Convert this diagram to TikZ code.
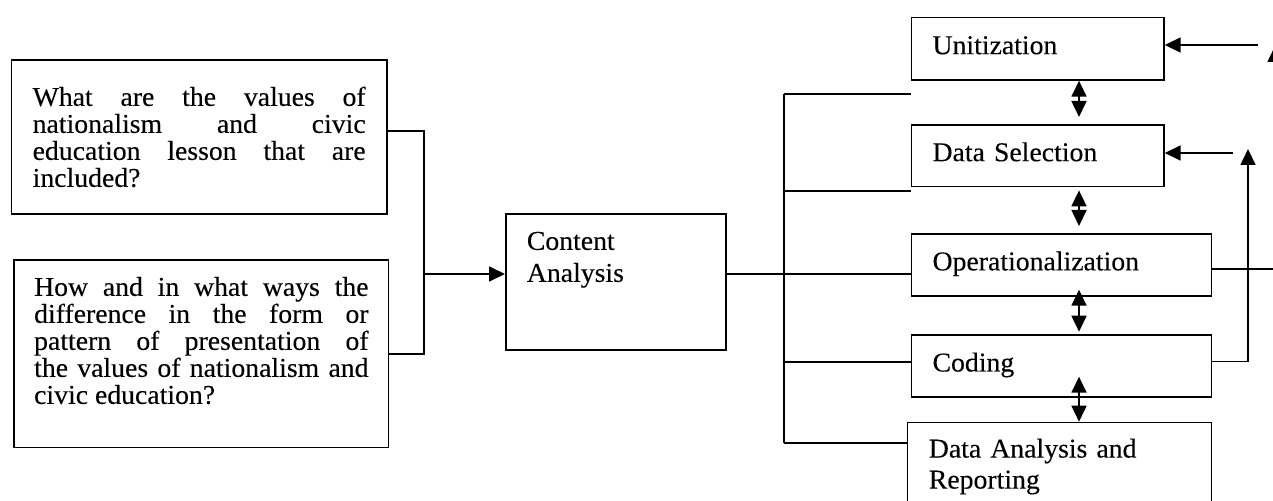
\documentclass[tikz,border=0pt]{standalone}
\usepackage{fontspec}
\setmainfont[FakeStretch=1.02,FakeBold=0.2]{Liberation Serif}
\usetikzlibrary{arrows.meta}
\hyphenpenalty=10000
\exhyphenpenalty=10000

\begin{document}
\begin{tikzpicture}[x=0.5pt,y=-0.5pt,line width=0.85pt,>={Triangle[length=8pt,width=7.5pt]}]
	\tikzstyle{rect}=[draw, rectangle, anchor=north west, inner xsep=10.5pt, text height=8.5pt, text depth=3pt, align=left, font=\fontsize{13.6}{15.5}\selectfont]
	\tikzstyle{rect_q}=[rect, align=justify, font=\fontsize{13.6}{13.5}\selectfont]

	\useasboundingbox (0,0) rectangle (1273,501);
	\clip (0,0) rectangle (1273,501);

	% questions
	\node[rect_q, text width=166.5pt, inner xsep=10.55pt, inner ysep=14.35pt, text depth=39.8pt] (q1) at (10.7,59.3) {What are the values of\linebreak nationalism and civic\linebreak education lesson that are\linebreak included?};
	\node[rect_q, text width=167.2pt, inner xsep=10pt, inner ysep=9.35pt, text depth=66.5pt] (q2) at (13.3,259.3) {How and in what ways the\linebreak difference in the form or\linebreak pattern of presentation of\linebreak the values of nationalism and\linebreak civic education?};

	% method
	\node[rect, text width=89pt, inner ysep=9.35pt, text depth=40.65pt, font=\fontsize{13.6}{16}\selectfont] (ca) at (505,213.3) {Content\\Analysis};

	% steps
	\node[rect, text width=105.15pt, inner ysep=9.825pt] (unit) at (910.7,16.7) {Unitization};
	\node[rect, text width=105.15pt, inner ysep=9.675pt] (sel) at (910.7,124) {Data Selection};
	\node[rect, text width=129pt, inner ysep=9.75pt] (oper) at (910.7,233) {Operationalization};
	\node[rect, text width=129pt, inner ysep=9.675pt] (cod) at (910.7,334.3) {Coding};
	\node[rect, text width=130.7pt, inner xsep=10.65pt, inner ysep=9pt, text depth=22.65pt] (rep) at (906.7,421.7) {Data Analysis and\\Reporting};

	\coordinate (jl) at (424,274);
	\coordinate (t1) at (784,94);
	\coordinate (t2) at (784,190.7);
	\coordinate (t3) at (784,274);
	\coordinate (t4) at (784,362.3);
	\coordinate (t5) at (784,442.7);
	\coordinate (ax) at (1079,0);
	\coordinate (fb1) at (1275,46);
	\coordinate (fb2) at (1248,149);
	\coordinate (fb3) at (1258,45);
	\coordinate (fb4) at (1233,153);

	\draw ([yshift=3.15pt]q1.east) -| (jl);
	\draw (q2.east) -| (jl);
	\draw[->] (jl) -- (jl -| ca.west);
	\draw (jl -| ca.east) -- (t3);

	\draw (t1) -- (t5);
	\draw (t1) -- (t1 -| unit.west);
	\draw (t2) -- (t2 -| sel.west);
	\draw (t3) -- (t3 -| oper.west);
	\draw (t4) -- (t4 -| cod.west);
	\draw (t5) -- (t5 -| rep.west);

	\draw[<->, shorten >=3.5pt] (unit.south -| ax) -- (sel.north -| ax);
	\draw[<->, shorten <=1.5pt, shorten >=3.5pt] (sel.south -| ax) -- (oper.north -| ax);
	\draw[<->, shorten >=1.3pt] ([yshift=3.5pt]oper.south -| ax) -- (cod.north -| ax);
	\draw[<->] ([yshift=10.5pt]cod.south -| ax) -- (rep.north -| ax);

	\draw[->] ([yshift=-2.15pt]oper.east) -| (fb1);
	\draw[->] ([yshift=2.2pt]cod.east) -| (fb2);
	\draw[->] (fb3) -- (fb3 -| unit.east);
	\draw[->] (fb4) -- (fb4 -| sel.east);
\end{tikzpicture}
\end{document}
